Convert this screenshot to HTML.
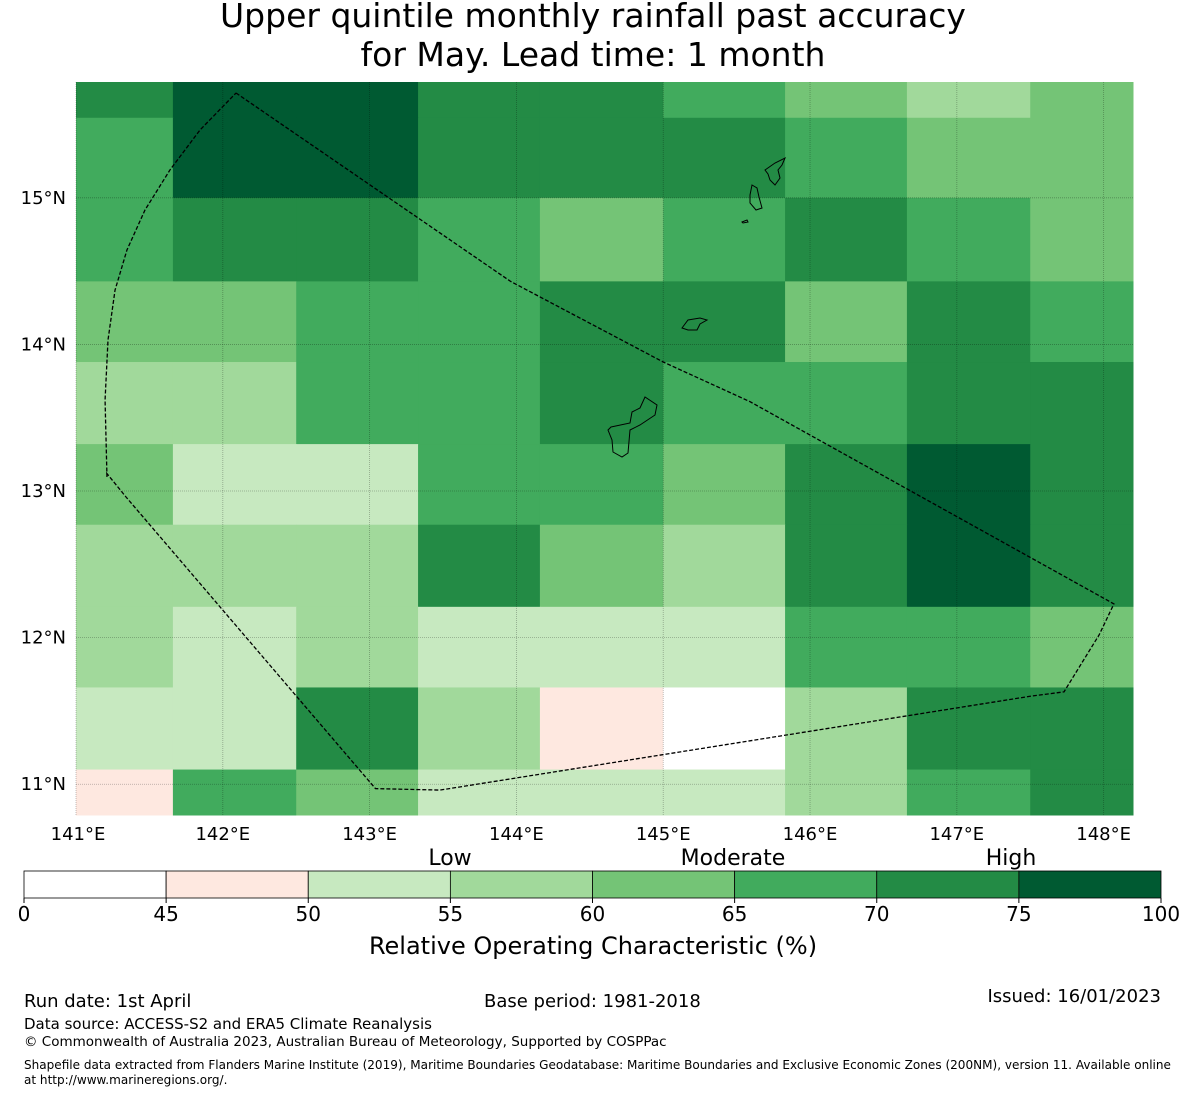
<!DOCTYPE html>
<html><head><meta charset="utf-8"><style>
body{margin:0;background:#fff;font-family:"DejaVu Sans","Liberation Sans",sans-serif;}
svg text{font-family:"DejaVu Sans","Liberation Sans",sans-serif;}
</style></head><body>
<svg id="chart" width="1185" height="1095" viewBox="0 0 1185 1095" xmlns="http://www.w3.org/2000/svg">
<text x="593" y="27" font-size="33" text-anchor="middle">Upper quintile monthly rainfall past accuracy</text>
<text x="593" y="66" font-size="33" text-anchor="middle">for May. Lead time: 1 month</text>
<g id="cells"></g>
<g id="grid"></g>
<g id="eez"></g>
<g id="ticks"></g>
<g id="cbar"></g>
<text x="450" y="865" font-size="22" text-anchor="middle">Low</text>
<text x="733" y="865" font-size="22" text-anchor="middle">Moderate</text>
<text x="1011" y="865" font-size="22" text-anchor="middle">High</text>
<text x="593" y="954" font-size="24" text-anchor="middle">Relative Operating Characteristic (%)</text>
<text x="24" y="1007" font-size="18">Run date: 1st April</text>
<text x="484" y="1007" font-size="18">Base period: 1981-2018</text>
<text x="1161" y="1002" font-size="18" text-anchor="end">Issued: 16/01/2023</text>
<text x="24" y="1029" font-size="15">Data source: ACCESS-S2 and ERA5 Climate Reanalysis</text>
<text x="24" y="1046" font-size="13.5">© Commonwealth of Australia 2023, Australian Bureau of Meteorology, Supported by COSPPac</text>
<text x="24" y="1069" font-size="12.05">Shapefile data extracted from Flanders Marine Institute (2019), Maritime Boundaries Geodatabase: Maritime Boundaries and Exclusive Economic Zones (200NM), version 11. Available online</text>
<text x="24" y="1084" font-size="12.05">at http://www.marineregions.org/.</text>
</svg>
<script>
const lonEdges=[141.0,141.66,142.5,143.33,144.16,145.0,145.83,146.66,147.5,148.2];
const latEdges=[15.79,15.546,15.0,14.43,13.88,13.32,12.77,12.21,11.66,11.1,10.79];
const cellValues=[
[72,80,80,72,72,67,62,57,62],
[67,80,80,72,72,72,67,62,62],
[67,72,72,67,62,67,72,67,62],
[62,62,67,67,72,72,62,72,67],
[57,57,67,67,72,67,67,72,72],
[62,52,52,67,67,62,72,80,72],
[57,57,57,72,62,57,72,80,72],
[57,52,57,52,52,52,67,67,62],
[52,52,72,57,47,40,57,72,72],
[47,67,62,52,52,52,57,67,72]];
const classBounds=[0,45,50,55,60,65,70,75,100];
const classColors=["#ffffff","#fee8e0","#c7e9c0","#a1d99b","#74c476","#41ab5d","#238b45","#005a32"];
const lonTicks=[141,142,143,144,145,146,147,148];
const latTicks=[11,12,13,14,15];
const eezLon=[142.09,143.96,145.0,145.59,148.07,147.97,147.73,147.5,143.48,143.04,141.34,141.21,141.211,141.198,141.218,141.266,141.347,141.47,141.64,141.845,142.09];
const eezLat=[15.715,14.43,13.88,13.61,12.23,12.02,11.63,11.6,10.96,10.97,12.96,13.12,13.096,13.621,14.03,14.371,14.644,14.917,15.19,15.463,15.715];
const X0=76,X1=1133,Y0=82,Y1=815;
const xOf=lon=>X0+(lon-141.0)*(X1-X0)/(148.2-141.0);
const yOf=lat=>Y0+(15.79-lat)*(Y1-Y0)/(15.79-10.79);
const colorOf=v=>{for(let i=0;i<classColors.length;i++){if(v<classBounds[i+1])return classColors[i];}return classColors[classColors.length-1];};
const NS="http://www.w3.org/2000/svg";
function mk(t,a,p){const e=document.createElementNS(NS,t);for(const k in a)e.setAttribute(k,a[k]);p.appendChild(e);return e;}
const cells=document.getElementById('cells');
cellValues.forEach((row,r)=>row.forEach((v,c)=>{
 const x=xOf(lonEdges[c]),x2=xOf(lonEdges[c+1]),y=yOf(latEdges[r]),y2=yOf(latEdges[r+1]);
 const el=mk('rect',{x:x,y:y,width:x2-x+0.5,height:y2-y+0.5,fill:colorOf(v)},cells);
 
 
}));
const grid=document.getElementById('grid');
lonTicks.forEach(l=>{const el=mk('line',{x1:xOf(l),x2:xOf(l),y1:Y0,y2:Y1,stroke:'#000','stroke-opacity':0.3,'stroke-width':0.8,'stroke-dasharray':'1,1'},grid);
 });
latTicks.forEach(l=>{const el=mk('line',{x1:X0,x2:X1,y1:yOf(l),y2:yOf(l),stroke:'#000','stroke-opacity':0.3,'stroke-width':0.8,'stroke-dasharray':'1,1'},grid);
 });
const eez=document.getElementById('eez');
const pl=mk('polyline',{points:eezLon.map((l,i)=>xOf(l)+','+yOf(eezLat[i])).join(' '),fill:'none',stroke:'#000','stroke-width':1.3,'stroke-dasharray':'4,2'},eez);

const islands=[
"611,427 630,423 632,412 640,408 645,397 657,405 655,415 640,425 630,430 628,453 622,457 613,452 612,440 608,430",
"682,328 688,320 700,318 707,320 700,324 697,330 688,330",
"750,195 752,185 757,188 759,197 762,208 756,210 750,203",
"765,170 775,163 785,158 782,165 778,170 780,178 775,185 770,180 768,174",
"742,222 747,220 748,222 743,223"];
islands.forEach(p=>{const el=mk('polygon',{points:p,fill:'none',stroke:'#000','stroke-width':1},eez);
 });
const ticks=document.getElementById('ticks');
lonTicks.forEach(l=>{const t=mk('text',{x:xOf(l)+(l===141?2:0),y:840,'font-size':18,'text-anchor':'middle'},ticks);t.textContent=l+'°E';
 });
latTicks.forEach(l=>{const t=mk('text',{x:66,y:yOf(l)+6,'font-size':18,'text-anchor':'end'},ticks);t.textContent=l+'°N';
 });
const cbar=document.getElementById('cbar');
const CB0=24,CB1=1161,CBY=871,CBH=27,segW=(CB1-CB0)/classColors.length;
classColors.forEach((c,i)=>{const el=mk('rect',{x:CB0+i*segW,y:CBY,width:segW,height:CBH,fill:c,stroke:'#000','stroke-width':0.8},cbar);
 });
classBounds.forEach((b,i)=>{const x=CB0+i*segW;
 const tk=mk('line',{x1:x,x2:x,y1:CBY+CBH,y2:CBY+CBH+5,stroke:'#000'},cbar);
 
 const t=mk('text',{x:x,y:921,'font-size':20,'text-anchor':'middle'},cbar);t.textContent=b;
 });
</script>
</body></html>
